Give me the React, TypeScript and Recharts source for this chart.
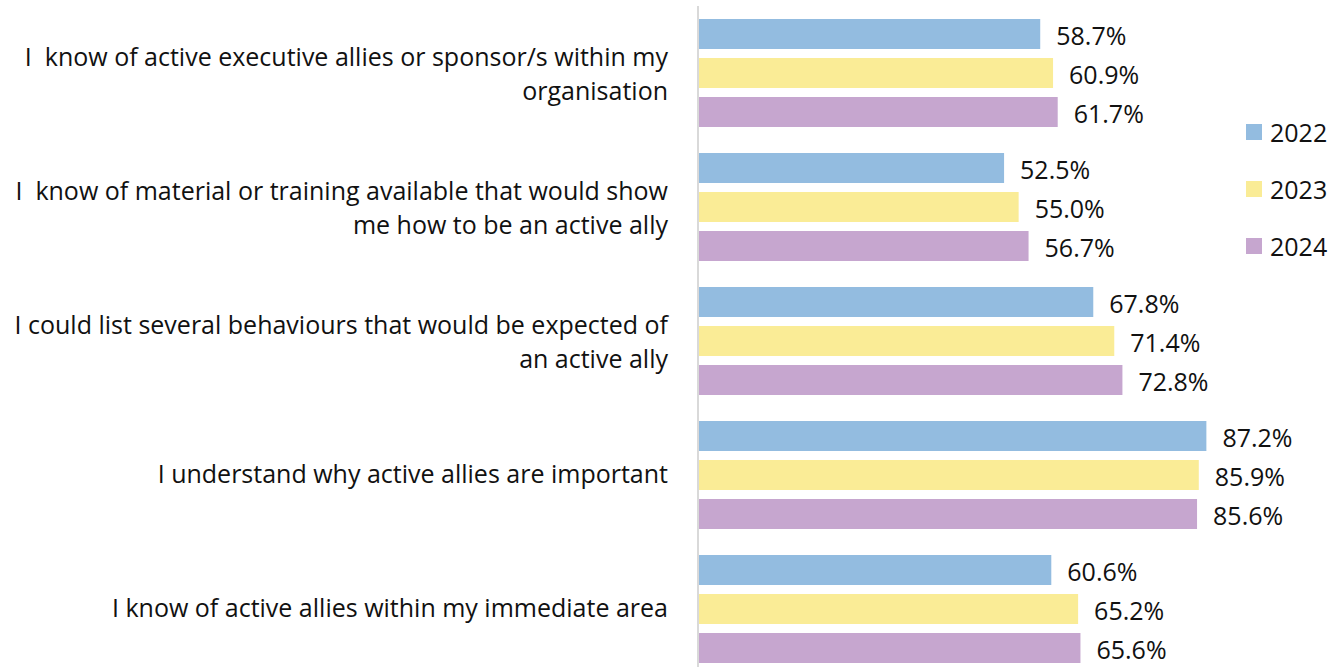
import React from 'react';
import { BarChart, Bar, XAxis, YAxis, Legend, LabelList } from 'recharts';

const categories = [
  'I  know of active executive allies or sponsor/s within my\norganisation',
  'I  know of material or training available that would show\nme how to be an active ally',
  'I could list several behaviours that would be expected of\nan active ally',
  'I understand why active allies are important',
  'I know of active allies within my immediate area',
];
const values2022 = [58.7, 52.5, 67.8, 87.2, 60.6];
const values2023 = [60.9, 55.0, 71.4, 85.9, 65.2];
const values2024 = [61.7, 56.7, 72.8, 85.6, 65.6];
const years = ['2022', '2023', '2024'];
const colors = ['#93BCE0', '#FAEC96', '#C6A6CF'];

const data = categories.map((name, i) => ({
  name,
  v2022: values2022[i],
  v2023: values2023[i],
  v2024: values2024[i],
}));

const FONT = '"Open Sans", sans-serif';

const CategoryTick = (props: any) => {
  const { x, y, payload } = props;
  const lines = String(payload.value).split('\n');
  const lineHeight = 34;
  const shift = lines.length > 1 ? 0 : -2;
  const startY = y + shift - ((lines.length - 1) * lineHeight) / 2;
  return (
    <text
      x={x}
      y={startY}
      textAnchor="end"
      dominantBaseline="central"
      fontFamily={FONT}
      fontSize={25}
      fill="#111"
      style={{ whiteSpace: 'pre' }}
    >
      {lines.map((line, i) => (
        <tspan key={i} x={x} dy={i === 0 ? 0 : lineHeight}>
          {line}
        </tspan>
      ))}
    </text>
  );
};

const LegendContent = (props: any) => {
  const { payload } = props;
  return (
    <div style={{ fontFamily: FONT, fontSize: 25, color: '#111' }}>
      {(payload || []).map((item: any) => (
        <div key={item.value} style={{ height: 57, display: 'flex', alignItems: 'center' }}>
          <span
            style={{
              width: 16,
              height: 16,
              background: item.color,
              display: 'inline-block',
              marginRight: 8,
            }}
          />
          <span>{item.value}</span>
        </div>
      ))}
    </div>
  );
};

const App = () => {
  return (
    <div style={{ position: 'absolute', left: 0, top: 0, background: '#fff' }}>
      <BarChart
        width={1339}
        height={676}
        data={data}
        layout="vertical"
        margin={{ top: 6, right: -35, left: 0, bottom: 0 }}
        barSize={30}
        barGap={9}
      >
        <XAxis type="number" domain={[0, 100]} hide />
        <YAxis
          type="category"
          dataKey="name"
          width={698}
          tickLine={false}
          tickSize={0}
          tickMargin={30}
          axisLine={{ stroke: '#d9d9d9', strokeWidth: 2 }}
          tick={<CategoryTick />}
          interval={0}
        />
        <Legend
          layout="vertical"
          align="right"
          verticalAlign="top"
          content={<LegendContent />}
          wrapperStyle={{ left: 1246, top: 103, width: 93 }}
        />
        {['v2022', 'v2023', 'v2024'].map((key, i) => (
          <Bar
            key={key}
            dataKey={key}
            name={years[i]}
            fill={colors[i]}
            isAnimationActive={false}
          >
            <LabelList
              dataKey={key}
              position="right"
              offset={16}
              dy={2}
              formatter={(v: any) => `${Number(v).toFixed(1)}%`}
              style={{ fontFamily: FONT, fontSize: 25, fill: '#111' }}
            />
          </Bar>
        ))}
      </BarChart>
    </div>
  );
};

export default App;
